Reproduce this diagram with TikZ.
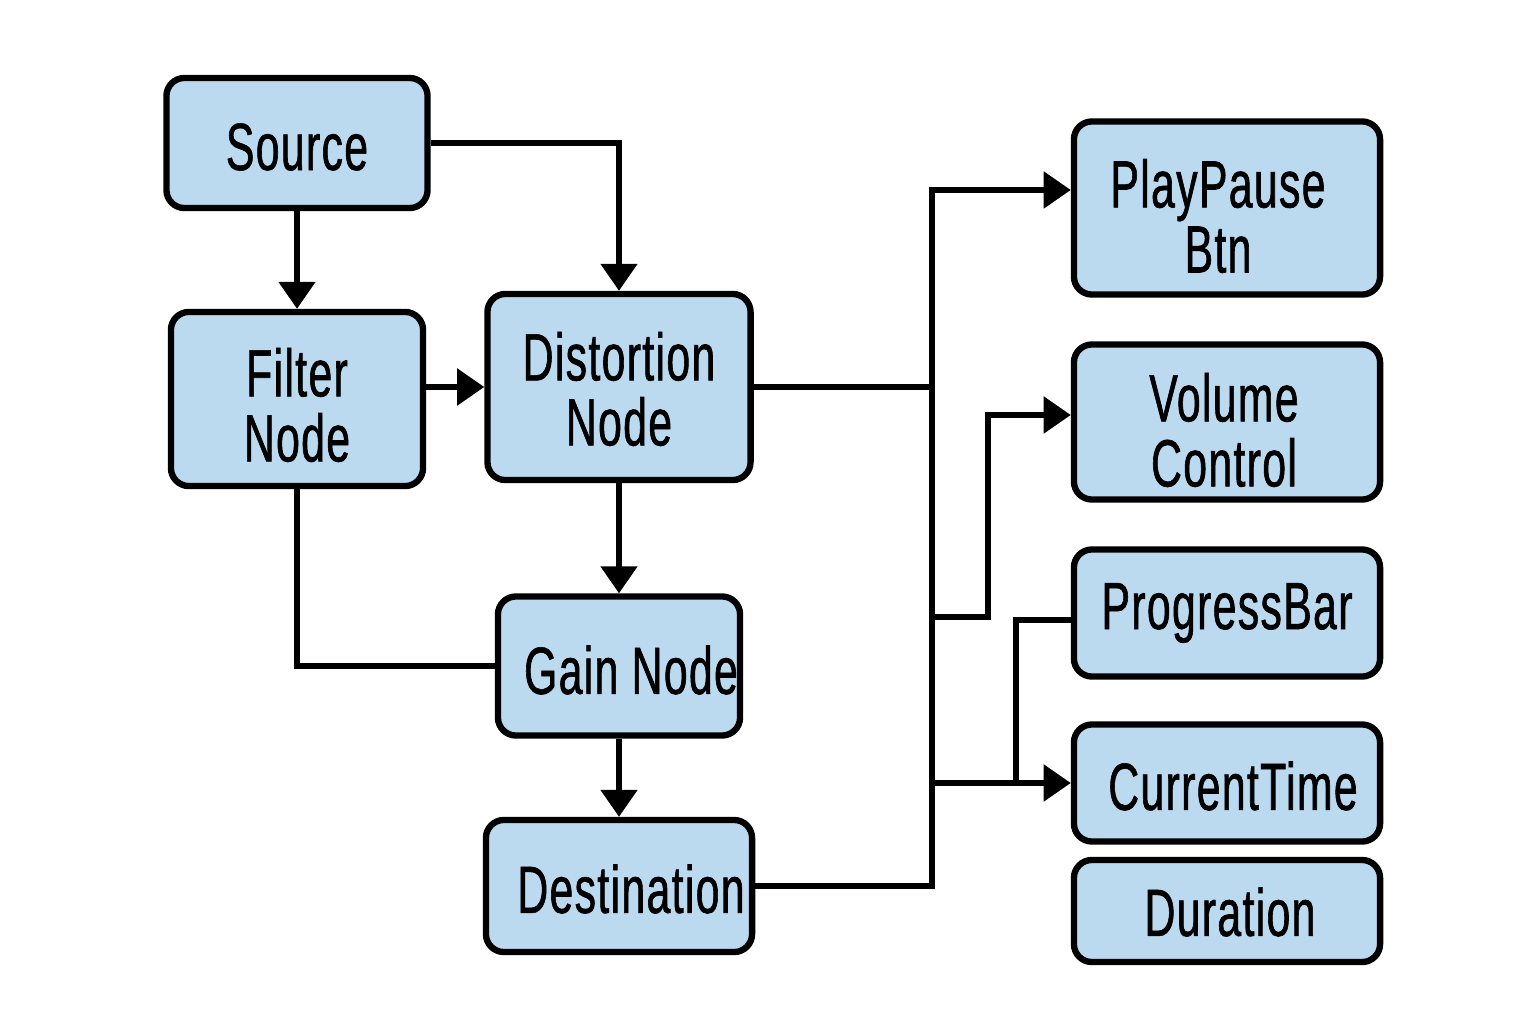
\documentclass[tikz,border=0pt]{standalone}
\usepackage{fontspec}
\setmainfont[FakeStretch=0.64,FakeBold=0.9,LetterSpace=2]{Liberation Sans}
\usetikzlibrary{arrows.meta}
\definecolor{boxfill}{RGB}{187,218,240}
\begin{document}
\begin{tikzpicture}[x=0.01cm,y=-0.01cm,
  box/.style={draw=black, line width=1.8pt, fill=boxfill, rounded corners=0.18cm,
    inner sep=0pt},
  lbl/.style={inner sep=0pt, align=center, font=\fontsize{19}{18.5}\selectfont},
  conn/.style={line width=1.45pt, line join=miter},
  arr/.style={conn, -{Triangle[length=0.27cm,width=0.36cm]}}]
\useasboundingbox (0,0) rectangle (1536,1024);
\fill[white] (0,0) rectangle (1536,1024);
% boxes
\node[box, minimum width=2.61cm, minimum height=1.30cm] (src) at (297,143) {};
\node[box, minimum width=2.52cm, minimum height=1.74cm] (filt) at (297,399) {};
\node[box, minimum width=2.63cm, minimum height=1.86cm] (dist) at (619,387) {};
\node[box, minimum width=2.42cm, minimum height=1.39cm] (gain) at (619,666) {};
\node[box, minimum width=2.66cm, minimum height=1.32cm] (dest) at (619,886) {};
\node[box, minimum width=3.06cm, minimum height=1.73cm] (play) at (1227,208) {};
\node[box, minimum width=3.06cm, minimum height=1.55cm] (vol) at (1227,422) {};
\node[box, minimum width=3.06cm, minimum height=1.27cm] (prog) at (1227,613) {};
\node[box, minimum width=3.06cm, minimum height=1.17cm] (cur) at (1227,783) {};
\node[box, minimum width=3.06cm, minimum height=1.02cm] (dur) at (1227,911) {};
% texts
\node[lbl] (srcT) at ([yshift=-0.04cm]src.center) {Source};
\node[lbl] (filtT) at ([yshift=-0.06cm]filt.center) {Filter\\Node};
\node[lbl] (distT) at ([yshift=-0.02cm]dist.center) {Distortion\\Node};
\node[lbl] (gainT) at ([xshift=0.12cm,yshift=-0.04cm]gain.center) {Gain Node};
\node[lbl] (destT) at ([xshift=0.12cm,yshift=-0.03cm]dest.center) {Destination};
\node[lbl] (playT) at ([xshift=-0.09cm,yshift=-0.08cm]play.center) {PlayPause\\Btn};
\node[lbl] (volT) at ([xshift=-0.03cm,yshift=-0.08cm]vol.center) {Volume\\Control};
\node[lbl] (progT) at (prog.center) {ProgressBar};
\node[lbl] (curT) at ([xshift=0.06cm,yshift=-0.03cm]cur.center) {CurrentTime};
\node[lbl] (durT) at ([xshift=0.03cm,yshift=-0.01cm]dur.center) {Duration};
% junction coordinates
\coordinate (tTop) at (932,190);
\coordinate (jv) at (932,617);
\coordinate (kv) at (988,415);
\coordinate (jc) at (932,783);
\coordinate (kp) at (1016,620);
\coordinate (kc) at (1016,783);
% connectors
\draw[arr] (src.east) -| (dist.north);
\draw[arr] (src.south) -- (filt.north);
\draw[arr] (filt.east |- 0,387) -- (dist.west |- 0,387);
\draw[arr] (dist.south) -- (gain.north);
\draw[arr] (gain.south) -- (dest.north);
\draw[conn] (filt.south) |- (gain.west);
\draw[conn] (dist.east |- 0,387) -- (tTop |- 0,387);
\draw[arr] (dest.east) -| (tTop) -- (tTop -| play.west);
\draw[arr] (jv) -| (kv) -- (kv -| vol.west);
\draw[arr] (jc) -- (jc -| cur.west);
\draw[conn] (kp -| prog.west) -- (kp) -- (kc);
\end{tikzpicture}
\end{document}
